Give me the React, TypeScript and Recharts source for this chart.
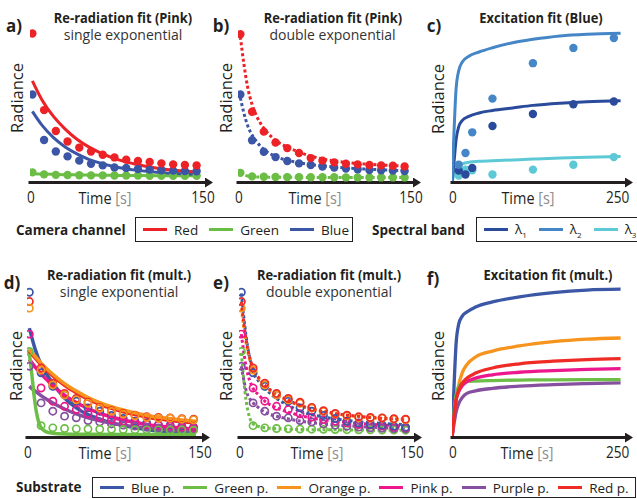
import { ComposedChart, Line, Scatter, XAxis, YAxis } from 'recharts';

const FONT = '"Open Sans", sans-serif';
const INK = '#231f20';

// colours
const cRed = '#ec2227';
const cGreen = '#6cbd45';
const cBlue = '#3a56a5';
const cL1 = '#2a4b9b';
const cL2 = '#4586c6';
const cL3 = '#5ec9d6';
const sBlue = '#3b57a6';
const sGreen = '#6cbe46';
const sOrange = '#f7941d';
const sPink = '#ec178c';
const sPurple = '#874f9f';
const sRed = '#ee2b25';

// a) / b) measured points (pink substrate, camera channels)
const tPts = [2, 12, 22, 32, 42, 52, 62, 72, 82, 92, 102, 112, 122, 132, 142];
const redA = [87.9, 42.7, 30.4, 24.2, 20.6, 18.3, 16.4, 14.8, 13.5, 12.7, 12.1, 11.3, 10.7, 10.3, 10.1];
const blueA = [51.9, 25.1, 18.3, 15.4, 12.9, 11.1, 10.1, 8.9, 8.6, 8.0, 7.6, 7.2, 7.0, 6.8, 6.6];
const greenA = [6.0, 4.8, 4.5, 4.4, 4.3, 4.2, 4.2, 4.1, 4.1, 4.1, 4.0, 4.0, 4.0, 4.0, 4.0];
const redB = [87.5, 41.7, 30.0, 23.6, 20.3, 17.4, 14.4, 12.9, 11.9, 11.1, 10.7, 10.3, 10.1, 9.9, 9.5];
const blueB = [51.9, 24.9, 18.1, 15.0, 12.7, 11.3, 10.3, 9.4, 8.8, 8.2, 7.8, 7.4, 7.2, 7.0, 6.8];
const greenB = [5.7, 3.6, 3.4, 3.3, 3.2, 3.2, 3.1, 3.1, 3.1, 3.0, 3.0, 3.0, 3.0, 3.0, 3.0];

// a) single exponential fits
const tFitA = [2, 10, 20, 30, 40, 50, 60, 75, 90, 110, 125, 142];
const redFitA = [60, 49, 39, 31.5, 25.5, 21, 17.5, 13.5, 10.8, 8.3, 7.1, 6.2];
const blueFitA = [42, 34, 26.5, 21, 16.9, 13.7, 11.4, 8.9, 7.3, 5.9, 5.3, 4.8];
const greenFitA = [5.2, 5.0, 4.8, 4.6, 4.5, 4.4, 4.3, 4.2, 4.1, 4.0, 4.0, 4.0];

// b) double exponential fits
const tFitB = [2, 5, 8, 12, 16, 22, 30, 40, 50, 60, 75, 90, 110, 125, 142];
const redFitB = [86, 70, 57, 46, 39, 32, 26, 21.5, 18.5, 16, 13.5, 12, 10.8, 10.2, 9.7];
const blueFitB = [50, 41, 34, 28, 24, 19.5, 16, 13.5, 12, 10.8, 9.6, 8.7, 7.9, 7.4, 7];
const greenFitB = [5.5, 4.5, 3.8, 3.4, 3.3, 3.2, 3.1, 3.1, 3.0, 3.0, 3.0, 3.0, 3.0, 3.0, 3.0];

// c) excitation, spectral bands
const tC = [10, 20, 30, 60, 120, 180, 240];
const l1C = [7, 4.7, 8.6, 33.3, 40.4, 46.2, 47.8];
const l2C = [10.5, 17.4, 29.6, 49.5, 70.4, 79.4, 85.2];
const l3C = [4.1, 7.6, 7.2, 4.7, 7.6, 10.5, 15];
const tFitC = [0, 3, 6, 10, 15, 25, 40, 60, 90, 120, 160, 200, 250];
const l1FitC = [0, 12, 25, 33, 36.5, 39, 41, 42.5, 44, 45.5, 46.8, 47.7, 48.3];
const l2FitC = [0, 30, 55, 66, 71, 74.5, 77, 79.5, 82.5, 84.5, 86.5, 87.5, 88];
const l3FitC = [0, 5, 8, 10, 11, 12, 12.5, 12.8, 13.3, 13.8, 14.4, 14.9, 15.3];

// d) / e) measured points, all substrates
const blueD = [85.7, 38.2, 30.2, 25.1, 21.4, 17.5, 15.5, 13.0, 11.2, 9.6, 8.6, 7.6, 7.3, 6.7, 6.1];
const greenD = [50.8, 7.0, 5.7, 5.3, 5.1, 5.0, 4.9, 4.8, 4.7, 4.6, 4.5, 4.5, 4.4, 4.4, 4.3];
const orangeD = [76.3, 39.8, 31.0, 25.1, 22.2, 20.2, 17.3, 15.4, 13.8, 12.8, 11.8, 11.4, 11.4, 10.8, 10.4];
const pinkD = [61.0, 29.2, 21.4, 18.4, 16.5, 14.0, 12.0, 10.6, 9.6, 8.6, 7.6, 7.3, 6.7, 6.1, 5.7];
const purpleD = [42.0, 20.4, 15.5, 12.6, 11.6, 10.0, 9.2, 8.0, 7.3, 6.7, 6.1, 5.7, 5.5, 5.3, 5.1];
const redD = [80.2, 41.0, 32.0, 26.0, 23.0, 20.8, 17.8, 15.8, 14.2, 13.2, 12.2, 11.8, 11.6, 11.1, 10.8];

// d) single exponential fits
const tFitD = [2, 7, 12, 17, 22, 32, 42, 52, 62, 72, 82, 93, 103, 113, 123, 134, 144];
const blueFitD = [64.5, 52, 43, 37, 32, 23.3, 17.5, 13.5, 10.8, 8.6, 7.0, 5.7, 4.6, 3.8, 3.3, 2.8, 2.4];
const orangeFitD = [52, 47.8, 43.9, 40.4, 37.3, 31.8, 27.4, 23.6, 20.6, 18.2, 16.2, 14.4, 13, 11.9, 11, 10.2, 9.6];
const redFitD = [51, 46.8, 42.9, 39.4, 36.3, 30.8, 26.4, 22.6, 19.6, 17.2, 15.2, 13.4, 12, 10.9, 10, 9.2, 8.6];
const pinkFitD = [46.1, 41.5, 37.5, 34, 30.6, 25, 20.6, 17.1, 14.3, 12.1, 10.3, 8.8, 7.6, 6.7, 6.0, 5.4, 4.9];
const purpleFitD = [30.2, 27.3, 24.7, 22.4, 20.3, 16.8, 13.9, 11.6, 9.9, 8.4, 7.3, 6.3, 5.5, 4.9, 4.4, 4.0, 3.7];
const tGreenFitD = [1, 2, 4, 6, 8, 10, 12, 16, 22, 32, 52, 82, 112, 144];
const greenFitD = [52, 49, 38, 25, 15, 9, 5.8, 3.5, 2.5, 2.1, 1.9, 1.8, 1.8, 1.8];

// e) double exponential fits
const tFitE = [2, 6, 12, 17, 22, 32, 42, 52, 62, 82, 102, 122, 142];
const blueFitE = [85, 60, 39, 33, 29, 23, 19, 15.5, 13.5, 11, 9.3, 8.3, 7.6];
const redFitE = [80, 58, 41, 35, 31, 25.5, 22, 19, 17, 14.2, 12.5, 11.4, 10.8];
const orangeFitE = [76, 56, 40, 34.5, 30.5, 25, 21.5, 18.7, 16.7, 14, 12.3, 11.2, 10.5];
const pinkFitE = [61, 42, 29, 25, 21.5, 17.5, 15, 13, 11.5, 9.8, 8.3, 7.4, 6.8];
const purpleFitE = [42, 28, 20.5, 17.5, 15, 12.5, 11, 9.7, 8.8, 7.4, 6.5, 5.8, 5.4];
const greenFitE = [50, 22, 8, 6.5, 5.8, 5.2, 4.9, 4.7, 4.6, 4.5, 4.4, 4.3, 4.2];

// f) excitation fits, all substrates
const tFitF = [0, 3, 6, 10, 15, 22, 35, 60, 100, 150, 200, 250];
const blueF = [0, 30, 55, 67, 71.5, 74, 77, 80, 83, 85.5, 87, 87.5];
const orangeF = [0, 12, 22, 31, 38, 43, 47.5, 51, 54, 56.5, 58, 58.7];
const redF = [0, 12, 22, 28, 32, 35, 38, 41, 43.5, 45, 46, 46.5];
const pinkF = [0, 12, 22, 27, 30.5, 33, 35, 37, 38.5, 39.5, 40.2, 40.6];
const greenF = [0, 15, 25, 30, 32, 33, 33.3, 33.6, 33.9, 34, 34.1, 34.2];
const purpleF = [0, 8, 15, 20, 23.5, 26, 27.5, 29, 30.3, 31.2, 31.8, 32.2];

const cameraLegend = [
    { name: 'Red', color: cRed },
    { name: 'Green', color: cGreen },
    { name: 'Blue', color: cBlue },
];
const substrateLegend = [
    { name: 'Blue p.', color: sBlue },
    { name: 'Green p.', color: sGreen },
    { name: 'Orange p.', color: sOrange },
    { name: 'Pink p.', color: sPink },
    { name: 'Purple p.', color: sPurple },
    { name: 'Red p.', color: sRed },
];

type Pt = { t: number; v: number };
const pts = (t: number[], v: number[]): Pt[] => t.map((x, i) => ({ t: x, v: v[i] }));

interface Series { key: string; color: string; pts?: Pt[]; fit?: Pt[] }

function TickLabel(props: any) {
    const { x, y, payload } = props;
    const dx = payload.value === 0 ? 1 : -3;
    return (
        <text transform={`translate(${x + dx},${y + 14.5}) scale(0.8,1)`} textAnchor="middle"
            dominantBaseline="central" fontSize={17} fill={INK} fontFamily={FONT}>{payload.value}</text>
    );
}

interface PanelProps {
    axisX: number; axisY: number; plotTop: number; plotRight: number;
    xMax: number; xTicks: number[]; series: Series[];
    dotted?: boolean; hollow?: boolean; pointsOnTop?: boolean; lineWidth?: number;
}

function Panel({ axisX, axisY, plotTop, plotRight, xMax, xTicks, series, dotted, hollow, pointsOnTop, lineWidth = 3 }: PanelProps) {
    const w = plotRight - axisX + 20;
    const h = axisY - plotTop + 40;
    const axisLine = { stroke: INK, strokeWidth: 3, strokeLinecap: 'square' as const };

    const pointNodes = series.filter(s => s.pts).map(s => (
        <Scatter key={'p' + s.key} data={s.pts} dataKey="v" fill={s.color} isAnimationActive={false}
            shape={hollow
                ? (p: any) => <circle cx={p.cx} cy={p.cy} r={3.6} fill="none" stroke={s.color} strokeWidth={1.7} />
                : (p: any) => <circle cx={p.cx} cy={p.cy} r={4.2} fill={s.color} />} />
    ));
    const lineNodes = series.filter(s => s.fit).map(s => (
        <Line key={'l' + s.key} data={s.fit} dataKey="v" type="monotone" stroke={s.color}
            strokeWidth={lineWidth} dot={false} activeDot={false} isAnimationActive={false}
            strokeDasharray={dotted ? '3 2.5' : undefined} />
    ));

    return (
        <div style={{ position: 'absolute', left: axisX - 5, top: plotTop - 10 }}>
            <ComposedChart width={w} height={h} margin={{ top: 10, right: 15, bottom: 0, left: 5 }}
                style={{ overflow: 'visible' }}>
                <XAxis type="number" dataKey="t" domain={[0, xMax]} ticks={xTicks} interval={0}
                    allowDataOverflow tickLine={false} tickSize={0} tickMargin={0} height={30}
                    tick={<TickLabel />} axisLine={{ ...axisLine, markerEnd: 'url(#axArrow)' }} />
                <YAxis type="number" domain={[0, 100]} width={0} tick={false} tickLine={false}
                    allowDataOverflow axisLine={{ ...axisLine, markerStart: 'url(#axArrow)' }} />
                {pointsOnTop ? [...lineNodes, ...pointNodes] : [...pointNodes, ...lineNodes]}
            </ComposedChart>
        </div>
    );
}

function Txt({ x, y, children, style }: { x: number; y: number; children: any; style?: any }) {
    return (
        <div style={{
            position: 'absolute', left: x, top: y, transform: 'translate(-50%, -50%)',
            whiteSpace: 'nowrap', lineHeight: 1, color: INK, ...style,
        }}>{children}</div>
    );
}

const titleStyle = { fontWeight: 700, fontSize: 15, transform: 'translate(-50%, -50%) scaleX(0.86)' };
const subStyle = { fontSize: 14, color: '#333' };
const letterStyle = { fontWeight: 700, fontSize: 17 };

function Radiance({ x, y }: { x: number; y: number }) {
    return <Txt x={x} y={y} style={{ fontSize: 16.5, transform: 'translate(-50%, -50%) rotate(-90deg)' }}>Radiance</Txt>;
}
function Time({ x, y }: { x: number; y: number }) {
    return (
        <Txt x={x} y={y} style={{ fontSize: 17, transform: 'translate(-50%, -50%) scaleX(0.85)' }}>
            Time <span style={{ color: '#8c8c8c' }}>[s]</span>
        </Txt>
    );
}

function LegendItem({ color, children }: { color: string; children: any }) {
    return (
        <div style={{ display: 'flex', alignItems: 'center' }}>
            <span style={{ display: 'inline-block', width: 24, height: 3, background: color, marginRight: 7 }} />
            <span>{children}</span>
        </div>
    );
}

function LegendBox({ left, top, width, height, gap, children }: any) {
    return (
        <div style={{
            position: 'absolute', left, top, width, height, boxSizing: 'border-box',
            border: `1px solid ${INK}`, display: 'flex', alignItems: 'center', gap,
            paddingLeft: 7, fontSize: 13.5, color: INK,
        }}>{children}</div>
    );
}

export default function App() {
    return (
        <div style={{
            position: 'absolute', left: 0, top: 0, width: 637, height: 499, overflow: 'hidden',
            background: '#fff', fontFamily: FONT, color: INK,
        }}>
            <svg width={0} height={0} style={{ position: 'absolute' }}>
                <defs>
                    <marker id="axArrow" viewBox="0 0 8 10" refX={1} refY={5} markerWidth={8} markerHeight={10}
                        markerUnits="userSpaceOnUse" orient="auto-start-reverse">
                        <path d="M0,0 L8,5 L0,10 z" fill={INK} />
                    </marker>
                </defs>
            </svg>

            {/* a) */}
            <Panel axisX={30} axisY={182.5} plotTop={13} plotRight={206} xMax={150} xTicks={[0, 150]} pointsOnTop
                series={[
                    { key: 'g', color: cGreen, pts: pts(tPts, greenA), fit: pts(tFitA, greenFitA) },
                    { key: 'b', color: cBlue, pts: pts(tPts, blueA), fit: pts(tFitA, blueFitA) },
                    { key: 'r', color: cRed, pts: pts(tPts, redA), fit: pts(tFitA, redFitA) },
                ]} />
            {/* b) */}
            <Panel axisX={238.3} axisY={182.5} plotTop={13} plotRight={414.3} xMax={150} xTicks={[0, 150]} pointsOnTop dotted
                series={[
                    { key: 'g', color: cGreen, pts: pts(tPts, greenB), fit: pts(tFitB, greenFitB) },
                    { key: 'b', color: cBlue, pts: pts(tPts, blueB), fit: pts(tFitB, blueFitB) },
                    { key: 'r', color: cRed, pts: pts(tPts, redB), fit: pts(tFitB, redFitB) },
                ]} />
            {/* c) */}
            <Panel axisX={451.7} axisY={182.5} plotTop={13} plotRight={625.7} xMax={258} xTicks={[0, 250]} pointsOnTop
                series={[
                    { key: 'l3', color: cL3, pts: pts(tC, l3C), fit: pts(tFitC, l3FitC) },
                    { key: 'l1', color: cL1, pts: pts(tC, l1C), fit: pts(tFitC, l1FitC) },
                    { key: 'l2', color: cL2, pts: pts(tC, l2C), fit: pts(tFitC, l2FitC) },
                ]} />
            {/* d) */}
            <Panel axisX={27.3} axisY={437.5} plotTop={268} plotRight={203.3} xMax={150} xTicks={[0, 150]} hollow lineWidth={3.5}
                series={[
                    { key: 'b', color: sBlue, pts: pts(tPts, blueD), fit: pts(tFitD, blueFitD) },
                    { key: 'pu', color: sPurple, pts: pts(tPts, purpleD), fit: pts(tFitD, purpleFitD) },
                    { key: 'pi', color: sPink, pts: pts(tPts, pinkD), fit: pts(tFitD, pinkFitD) },
                    { key: 'g', color: sGreen, pts: pts(tPts, greenD), fit: pts(tGreenFitD, greenFitD) },
                    { key: 'r', color: sRed, pts: pts(tPts, redD), fit: pts(tFitD, redFitD) },
                    { key: 'o', color: sOrange, pts: pts(tPts, orangeD), fit: pts(tFitD, orangeFitD) },
                ]} />
            {/* e) */}
            <Panel axisX={239.3} axisY={437.5} plotTop={268} plotRight={415.3} xMax={150} xTicks={[0, 150]} hollow dotted
                series={[
                    { key: 'g', color: sGreen, pts: pts(tPts, greenD), fit: pts(tFitE, greenFitE) },
                    { key: 'pu', color: sPurple, pts: pts(tPts, purpleD), fit: pts(tFitE, purpleFitE) },
                    { key: 'pi', color: sPink, pts: pts(tPts, pinkD), fit: pts(tFitE, pinkFitE) },
                    { key: 'b', color: sBlue, pts: pts(tPts, blueD), fit: pts(tFitE, blueFitE) },
                    { key: 'o', color: sOrange, pts: pts(tPts, orangeD), fit: pts(tFitE, orangeFitE) },
                    { key: 'r', color: sRed, pts: pts(tPts, redD), fit: pts(tFitE, redFitE) },
                ]} />
            {/* f) */}
            <Panel axisX={451.7} axisY={437.5} plotTop={268} plotRight={625.7} xMax={258} xTicks={[0, 250]} lineWidth={3.3}
                series={[
                    { key: 'b', color: sBlue, fit: pts(tFitF, blueF) },
                    { key: 'o', color: sOrange, fit: pts(tFitF, orangeF) },
                    { key: 'pu', color: sPurple, fit: pts(tFitF, purpleF) },
                    { key: 'g', color: sGreen, fit: pts(tFitF, greenF) },
                    { key: 'pi', color: sPink, fit: pts(tFitF, pinkF) },
                    { key: 'r', color: sRed, fit: pts(tFitF, redF) },
                ]} />

            {/* panel texts */}
            <Txt x={14} y={25} style={letterStyle}>a)</Txt>
            <Txt x={123} y={16.5} style={titleStyle}>Re-radiation fit (Pink)</Txt>
            <Txt x={123} y={35} style={subStyle}>single exponential</Txt>
            <Radiance x={17} y={98} />
            <Time x={105} y={197} />

            <Txt x={221} y={25} style={letterStyle}>b)</Txt>
            <Txt x={332.5} y={16.5} style={titleStyle}>Re-radiation fit (Pink)</Txt>
            <Txt x={332.5} y={35} style={subStyle}>double exponential</Txt>
            <Radiance x={226} y={98} />
            <Time x={315} y={197} />

            <Txt x={434} y={25} style={letterStyle}>c)</Txt>
            <Txt x={541} y={16.5} style={titleStyle}>Excitation fit (Blue)</Txt>
            <Radiance x={438} y={99} />
            <Time x={528} y={197} />

            <Txt x={12} y={282} style={letterStyle}>d)</Txt>
            <Txt x={119} y={273.5} style={titleStyle}>Re-radiation fit (mult.)</Txt>
            <Txt x={119} y={292} style={subStyle}>single exponential</Txt>
            <Radiance x={16} y={366} />
            <Time x={105} y={452} />

            <Txt x={221} y={282} style={letterStyle}>e)</Txt>
            <Txt x={329} y={273.5} style={titleStyle}>Re-radiation fit (mult.)</Txt>
            <Txt x={329} y={292} style={subStyle}>double exponential</Txt>
            <Radiance x={226} y={366} />
            <Time x={317} y={452} />

            <Txt x={433} y={278} style={letterStyle}>f)</Txt>
            <Txt x={548} y={273.5} style={titleStyle}>Excitation fit (mult.)</Txt>
            <Radiance x={438} y={366} />
            <Time x={527} y={452} />

            {/* legends */}
            <div style={{ position: 'absolute', left: 16, top: 230, transform: 'translateY(-50%)', fontWeight: 700, fontSize: 13.5 }}>Camera channel</div>
            <LegendBox left={135} top={217} width={218} height={25} gap={11}>
                {cameraLegend.map(d => <LegendItem key={d.name} color={d.color}>{d.name}</LegendItem>)}
            </LegendBox>
            <div style={{ position: 'absolute', left: 372, top: 230, transform: 'translateY(-50%)', fontWeight: 700, fontSize: 13.5 }}>Spectral band</div>
            <LegendBox left={476} top={217} width={170} height={25} gap={12}>
                <LegendItem color={cL1}>λ<sub style={{ fontSize: 8 }}>1</sub></LegendItem>
                <LegendItem color={cL2}>λ<sub style={{ fontSize: 8 }}>2</sub></LegendItem>
                <LegendItem color={cL3}>λ<sub style={{ fontSize: 8 }}>3</sub></LegendItem>
            </LegendBox>
            <div style={{ position: 'absolute', left: 16, top: 487, transform: 'translateY(-50%)', fontWeight: 700, fontSize: 13.5 }}>Substrate</div>
            <LegendBox left={92} top={477} width={544} height={21} gap={9}>
                {substrateLegend.map(d => <LegendItem key={d.name} color={d.color}>{d.name}</LegendItem>)}
            </LegendBox>
        </div>
    );
}
